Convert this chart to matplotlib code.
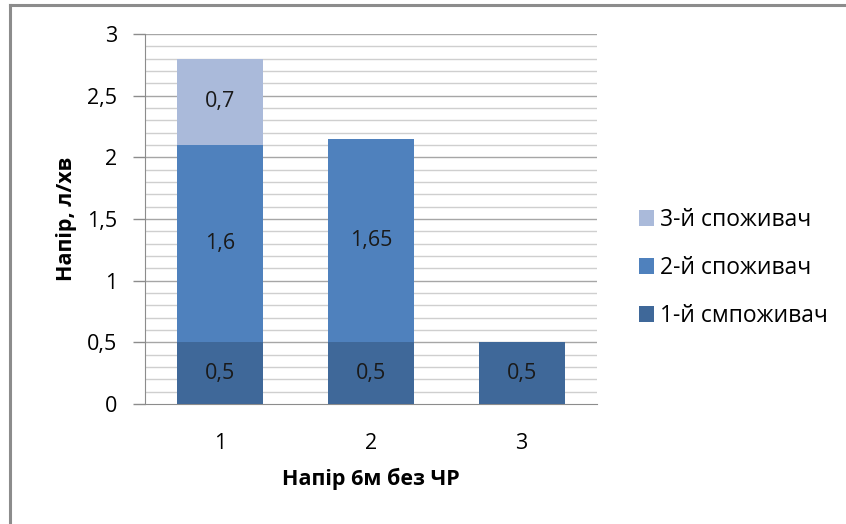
import matplotlib
matplotlib.use("Agg")
import matplotlib.pyplot as plt
import numpy as np
from matplotlib.lines import Line2D

categories = ["1", "2", "3"]
series_names = ["1-й смпоживач", "2-й споживач", "3-й споживач"]
consumer1 = [0.5, 0.5, 0.5]
consumer2 = [1.6, 1.65, 0.0]
consumer3 = [0.7, 0.0, 0.0]
y_ticks = [0, 0.5, 1, 1.5, 2, 2.5, 3]
y_tick_labels = ["0", "0,5", "1", "1,5", "2", "2,5", "3"]

colors = ["#3F6899", "#4F81BD", "#AABADA"]

plt.rcParams["font.family"] = ["Open Sans", "DejaVu Sans"]
FS = 15.5

fig = plt.figure(figsize=(8.46, 5.24), dpi=100)
ax = fig.add_axes([145 / 846, 1 - 404 / 524, (597 - 145) / 846, (404 - 34) / 524])

x = np.arange(len(categories))
width = 0.57
series = [consumer1, consumer2, consumer3]
bottom = np.zeros(len(categories))
for vals, col, name in zip(series, colors, series_names):
    vals = np.array(vals)
    ax.bar(x, vals, width, bottom=bottom, color=col, label=name, zorder=3)
    for xi, v, b in zip(x, vals, bottom):
        if v > 0:
            ax.text(xi, b + v / 2, f"{v:g}".replace(".", ","), ha="center", va="center",
                    fontsize=FS, color="#1a1a1a", zorder=4)
    bottom = bottom + vals

ax.set_xlim(-0.5, 2.5)
ax.set_ylim(0, 3)

# horizontal grid: light minor lines every 0.1, darker at the labelled values
for yv in np.arange(1, 30) / 10:
    major = abs(yv * 2 - round(yv * 2)) < 1e-9
    ax.axhline(yv, color="#A6A6A6" if major else "#CFCFCF", lw=1.0, zorder=1)
ax.axhline(3, color="#A6A6A6", lw=1.0, zorder=1)

ax.set_yticks(y_ticks)
ax.set_yticklabels(y_tick_labels)
ax.set_xticks(x)
ax.set_xticklabels(categories)
ax.tick_params(axis="y", length=8.6, width=1, color="#8C8C8C", labelsize=FS, pad=11.5)
ax.tick_params(axis="x", length=0, labelsize=FS, pad=21)

for s in ["top", "right"]:
    ax.spines[s].set_visible(False)
ax.spines["left"].set_color("#8C8C8C")
ax.spines["bottom"].set_color("#8C8C8C")

ax.set_xlabel("Напір 6м без ЧР", fontsize=FS, fontweight="bold", labelpad=10)
ax.set_ylabel("Напір, л/хв", fontsize=FS, fontweight="bold", labelpad=7)

handles, labels = ax.get_legend_handles_labels()
leg = fig.legend(handles[::-1], labels[::-1], loc="center left",
                 bbox_to_anchor=(618 / 846, 1 - 268 / 524), frameon=False,
                 fontsize=16.5, handlelength=0.65, handleheight=0.65,
                 handletextpad=0.3, labelspacing=1.05)

# outer chart frame (top and left edges)
fig.add_artist(Line2D([10 / 846, 1.0], [1 - 5 / 524, 1 - 5 / 524], color="#8C8C8C", lw=2.2,
                      transform=fig.transFigure))
fig.add_artist(Line2D([10 / 846, 10 / 846], [0, 1 - 5 / 524], color="#8C8C8C", lw=2.2,
                      transform=fig.transFigure))

fig.savefig("out.png", dpi=100)
